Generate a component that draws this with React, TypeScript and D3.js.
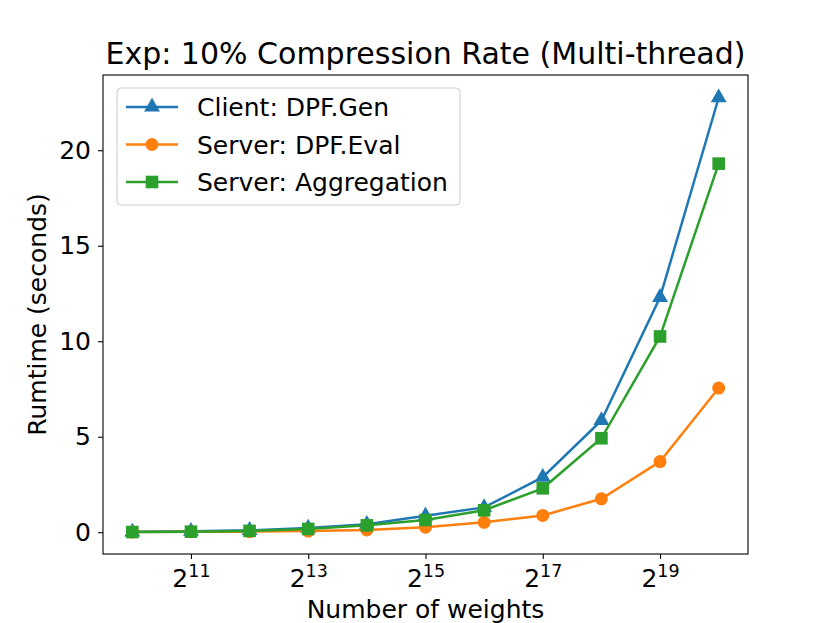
import * as d3 from 'd3';
import {useEffect, useRef} from 'react';

const exponents = [10, 11, 12, 13, 14, 15, 16, 17, 18, 19, 20];
const clientGen = [0.02, 0.05, 0.1, 0.22, 0.42, 0.86, 1.3, 2.88, 5.85, 12.3, 22.75];
const serverEval = [0.01, 0.02, 0.03, 0.06, 0.12, 0.26, 0.52, 0.88, 1.75, 3.7, 7.55];
const serverAgg = [0.01, 0.03, 0.07, 0.17, 0.36, 0.64, 1.15, 2.3, 4.92, 10.25, 19.3];
const xTicks = [11, 13, 15, 17, 19];
const yTicks = [0, 5, 10, 15, 20];

const series = [
	{name: 'Client: DPF.Gen', values: clientGen, color: '#1f77b4', marker: 'triangle'},
	{name: 'Server: DPF.Eval', values: serverEval, color: '#ff7f0e', marker: 'circle'},
	{name: 'Server: Aggregation', values: serverAgg, color: '#2ca02c', marker: 'square'},
];

const W = 830;
const H = 623;
const margin = {top: 75, right: 82, bottom: 69, left: 103};
const font = "'DejaVu Sans', sans-serif";

function drawMarker(g: d3.Selection<SVGGElement, unknown, null, undefined>, type: string, x: number, y: number, color: string) {
	if (type === 'triangle') {
		g.append('path')
			.attr('d', d3.symbol(d3.symbolTriangle, 110)())
			.attr('transform', `translate(${x},${y})`)
			.attr('fill', color);
	} else if (type === 'circle') {
		g.append('circle').attr('cx', x).attr('cy', y).attr('r', 6.5).attr('fill', color);
	} else {
		g.append('rect')
			.attr('x', x - 6.3)
			.attr('y', y - 6.3)
			.attr('width', 12.6)
			.attr('height', 12.6)
			.attr('fill', color);
	}
}

export default function App() {
	const svgRef = useRef<SVGSVGElement>(null);

	useEffect(() => {
		document.body.style.margin = '0';
		const svg = d3.select(svgRef.current).attr('width', W).attr('height', H).style('background', '#fff');
		svg.selectAll('*').remove();

		const innerW = W - margin.left - margin.right;
		const innerH = H - margin.top - margin.bottom;

		const x = d3.scaleLinear().domain([9.5, 20.5]).range([0, innerW]);
		const y = d3.scaleLinear().domain([-1.14, 23.94]).range([innerH, 0]);

		const chart = svg.append('g').attr('transform', `translate(${margin.left},${margin.top})`);

		// x axis
		const xAxis = chart
			.append('g')
			.attr('transform', `translate(0,${innerH})`)
			.call(d3.axisBottom(x).tickValues(xTicks).tickSize(5).tickFormat(() => ''));
		xAxis.select('.domain').remove();
		xAxis.selectAll('.tick line').attr('stroke', '#000').attr('stroke-width', 1.1);
		xAxis.selectAll<SVGGElement, number>('.tick').each(function (d) {
			const t = d3.select(this).append('text').attr('y', 33).attr('fill', '#000').attr('font-family', font).attr('text-anchor', 'middle');
			t.append('tspan').attr('font-size', 25).text('2');
			t.append('tspan').attr('font-size', 17.5).attr('dy', -10).text(String(d));
		});

		// y axis
		const yAxis = chart.append('g').call(d3.axisLeft(y).tickValues(yTicks).tickSize(5).tickPadding(7));
		yAxis.select('.domain').remove();
		yAxis.selectAll('.tick line').attr('stroke', '#000').attr('stroke-width', 1.1);
		yAxis.selectAll('.tick text').attr('font-size', 25).attr('font-family', font).attr('fill', '#000');

		// lines and markers
		series.forEach((s) => {
			const line = d3
				.line<number>()
				.x((_, i) => x(exponents[i]))
				.y((d) => y(d));
			chart.append('path').datum(s.values).attr('d', line).attr('fill', 'none').attr('stroke', s.color).attr('stroke-width', 2.5);
			const mg = chart.append('g');
			s.values.forEach((v, i) => drawMarker(mg, s.marker, x(exponents[i]), y(v), s.color));
		});

		// frame
		chart.append('rect').attr('width', innerW).attr('height', innerH).attr('fill', 'none').attr('stroke', '#000').attr('stroke-width', 1.1);

		// legend
		const lg = chart.append('g').attr('transform', 'translate(14,13)');
		lg.append('rect')
			.attr('width', 343)
			.attr('height', 117)
			.attr('rx', 4)
			.attr('fill', '#fff')
			.attr('fill-opacity', 0.8)
			.attr('stroke', '#ccc');
		series.forEach((s, i) => {
			const cy = 19 + i * 37.5;
			lg.append('line').attr('x1', 9).attr('x2', 61).attr('y1', cy).attr('y2', cy).attr('stroke', s.color).attr('stroke-width', 2.5);
			drawMarker(lg, s.marker, 35, cy, s.color);
			lg.append('text')
				.attr('x', 80)
				.attr('y', cy + 9)
				.attr('font-size', 25)
				.attr('font-family', font)
				.attr('fill', '#000')
				.text(s.name);
		});

		// title and labels
		svg.append('text')
			.attr('x', margin.left + innerW / 2)
			.attr('y', 64)
			.attr('text-anchor', 'middle')
			.attr('font-size', 30)
			.attr('font-family', font)
			.text('Exp: 10% Compression Rate (Multi-thread)');
		svg.append('text')
			.attr('x', margin.left + innerW / 2)
			.attr('y', 618)
			.attr('text-anchor', 'middle')
			.attr('font-size', 25)
			.attr('font-family', font)
			.text('Number of weights');
		svg.append('text')
			.attr('transform', `translate(46,${margin.top + innerH / 2}) rotate(-90)`)
			.attr('text-anchor', 'middle')
			.attr('font-size', 25)
			.attr('font-family', font)
			.text('Rumtime (seconds)');
	}, []);

	return <svg ref={svgRef} style={{display: 'block'}} />;
}
